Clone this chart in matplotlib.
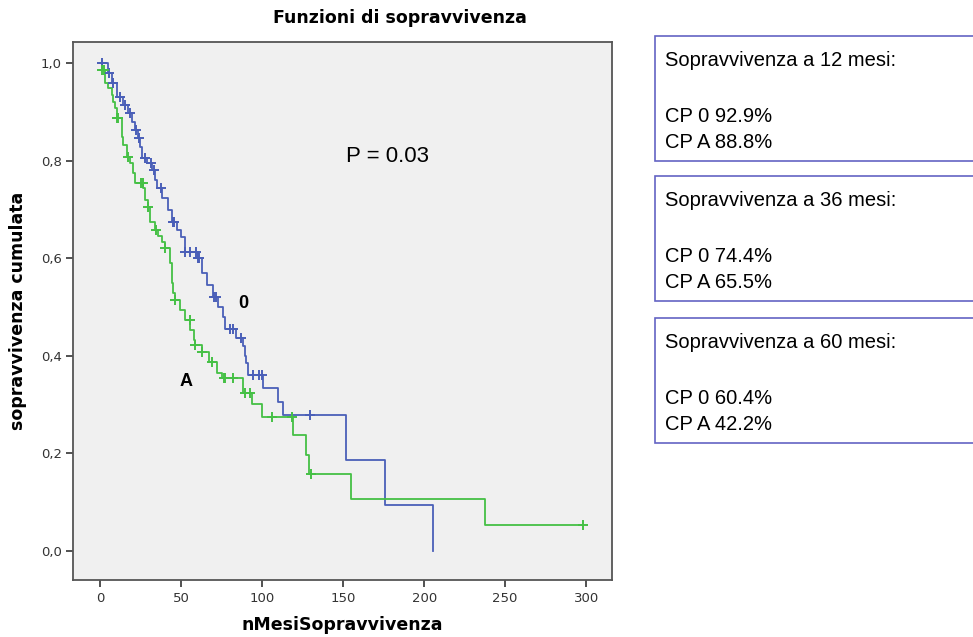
import numpy as np
import matplotlib
matplotlib.use("Agg")
import matplotlib.pyplot as plt
from matplotlib.patches import Rectangle

# curva "0" (blu): tempi degli eventi e sopravvivenza dopo il salto
t0 = [0, 4.5, 7, 10.5, 14, 17, 19.5, 21.5, 23, 24.5, 25.5, 29, 32, 33.5, 35, 38, 41.5,
      44, 47, 50, 52, 60, 63, 66, 69.5, 72.5, 75.5, 77, 84, 88, 89, 90, 91, 100.5,
      109.5, 112.5, 151.5, 175.5, 205.5]
s0 = [1.0, 0.98, 0.96, 0.93, 0.914, 0.897, 0.879, 0.863, 0.846, 0.828, 0.805, 0.795,
      0.78, 0.76, 0.744, 0.723, 0.699, 0.674, 0.658, 0.643, 0.613, 0.60, 0.57, 0.545,
      0.52, 0.50, 0.48, 0.455, 0.436, 0.42, 0.40, 0.385, 0.36, 0.334, 0.305, 0.279,
      0.186, 0.094, 0.0]
cens0 = [1, 5, 8, 12, 15, 18, 22, 24, 27.5, 31, 33, 37.5, 44.5, 45.5, 52, 55, 59, 60,
         61, 70, 71.5, 80, 82, 87, 94, 98, 100, 129.5]

# curva "A" (verde)
tA = [0, 1, 2.8, 4.6, 7, 7.7, 9, 10.2, 13.3, 14, 16.4, 18.2, 20, 21.3, 26.3, 27.5,
      29.3, 30.6, 33.7, 35.5, 38, 40, 43, 44.2, 45, 46, 49, 52, 55.5, 57.5, 58.5, 62.5,
      67, 72, 75, 88, 93.5, 100, 119, 127, 128.6, 154.8, 237.5, 298]
sA = [1.0, 0.985, 0.96, 0.949, 0.934, 0.92, 0.908, 0.887, 0.848, 0.832, 0.807, 0.795,
      0.775, 0.754, 0.744, 0.719, 0.705, 0.674, 0.658, 0.645, 0.633, 0.62, 0.59, 0.549,
      0.529, 0.514, 0.494, 0.473, 0.453, 0.432, 0.422, 0.408, 0.387, 0.365, 0.354,
      0.324, 0.30, 0.275, 0.238, 0.197, 0.158, 0.106, 0.053, 0.053]
censA = [1, 2, 10.5, 11, 17, 25, 26, 29.5, 34, 40, 46, 55, 58.5, 63, 69, 76, 77, 82,
         89, 92.5, 106, 118, 130, 298]

xticks = [0, 50, 100, 150, 200, 250, 300]
yticks = [0.0, 0.2, 0.4, 0.6, 0.8, 1.0]

box_titoli = ["Sopravvivenza a 12 mesi:", "Sopravvivenza a 36 mesi:", "Sopravvivenza a 60 mesi:"]
box_cp0 = ["CP 0 92.9%", "CP 0 74.4%", "CP 0 60.4%"]
box_cpA = ["CP A 88.8%", "CP A 65.5%", "CP A 42.2%"]

blu = '#4a5fb8'
verde = '#45c045'


def step_val(t, s, x):
    i = np.searchsorted(t, x, side='right') - 1
    return np.array(s)[i]


fig = plt.figure(figsize=(9.73, 6.37), dpi=100)
ax = fig.add_axes([0.0755, 0.0895, 0.5535, 0.8445])
ax.set_facecolor('#f0f0f0')

ax.step(t0, s0, where='post', color=blu, lw=1.3)
ax.step(tA, sA, where='post', color=verde, lw=1.3)
ax.plot(cens0, step_val(t0, s0, cens0), '+', color=blu, ms=6.5, mew=1.4)
ax.plot(censA, step_val(tA, sA, censA), '+', color=verde, ms=6.5, mew=1.4)

ax.set_xlim(-16.7, 316)
ax.set_ylim(-0.06, 1.043)
ax.set_xticks(xticks)
ax.set_yticks(yticks)
ax.set_yticklabels([f"{v:.1f}".replace('.', ',') for v in yticks])
ax.tick_params(direction='out', length=5, width=1.2, colors='#333333', labelsize=9.5)
for sp in ax.spines.values():
    sp.set_color('#555555')
    sp.set_linewidth(1.3)

ax.set_xlabel('nMesiSopravvivenza', fontsize=12.5, fontweight='bold', labelpad=8)
ax.set_ylabel('sopravvivenza cumulata', fontsize=12.5, fontweight='bold', labelpad=10)
fig.text(400 / 973, 1 - 18 / 637, 'Funzioni di sopravvivenza', ha='center', va='center',
         fontsize=12.5, fontweight='bold')

fig.text(387 / 973, 1 - 156 / 637, 'P = 0.03', fontsize=16, family='Liberation Sans',
         ha='center', va='center')
fig.text(243 / 973, 1 - 304 / 637, '0', fontsize=13, fontweight='bold', ha='center', va='center',
         family='Liberation Sans')
fig.text(186 / 973, 1 - 381 / 637, 'A', fontsize=13, fontweight='bold', ha='center', va='center',
         family='Liberation Sans')

# riquadri a destra
tops = [36, 176, 318]
for k in range(3):
    y0 = tops[k]
    fig.patches.append(Rectangle((655 / 973, 1 - (y0 + 125) / 637), 330 / 973, 125 / 637,
                                 transform=fig.transFigure, facecolor='white',
                                 edgecolor='#6464c4', lw=1.2))
    fig.text(665 / 973, 1 - (y0 + 24) / 637, box_titoli[k], fontsize=14.5,
             family='Liberation Sans', va='center')
    fig.text(665 / 973, 1 - (y0 + 81) / 637, box_cp0[k], fontsize=14.5,
             family='Liberation Sans', va='center')
    fig.text(665 / 973, 1 - (y0 + 107) / 637, box_cpA[k], fontsize=14.5,
             family='Liberation Sans', va='center')

fig.savefig('out.png', dpi=100)
